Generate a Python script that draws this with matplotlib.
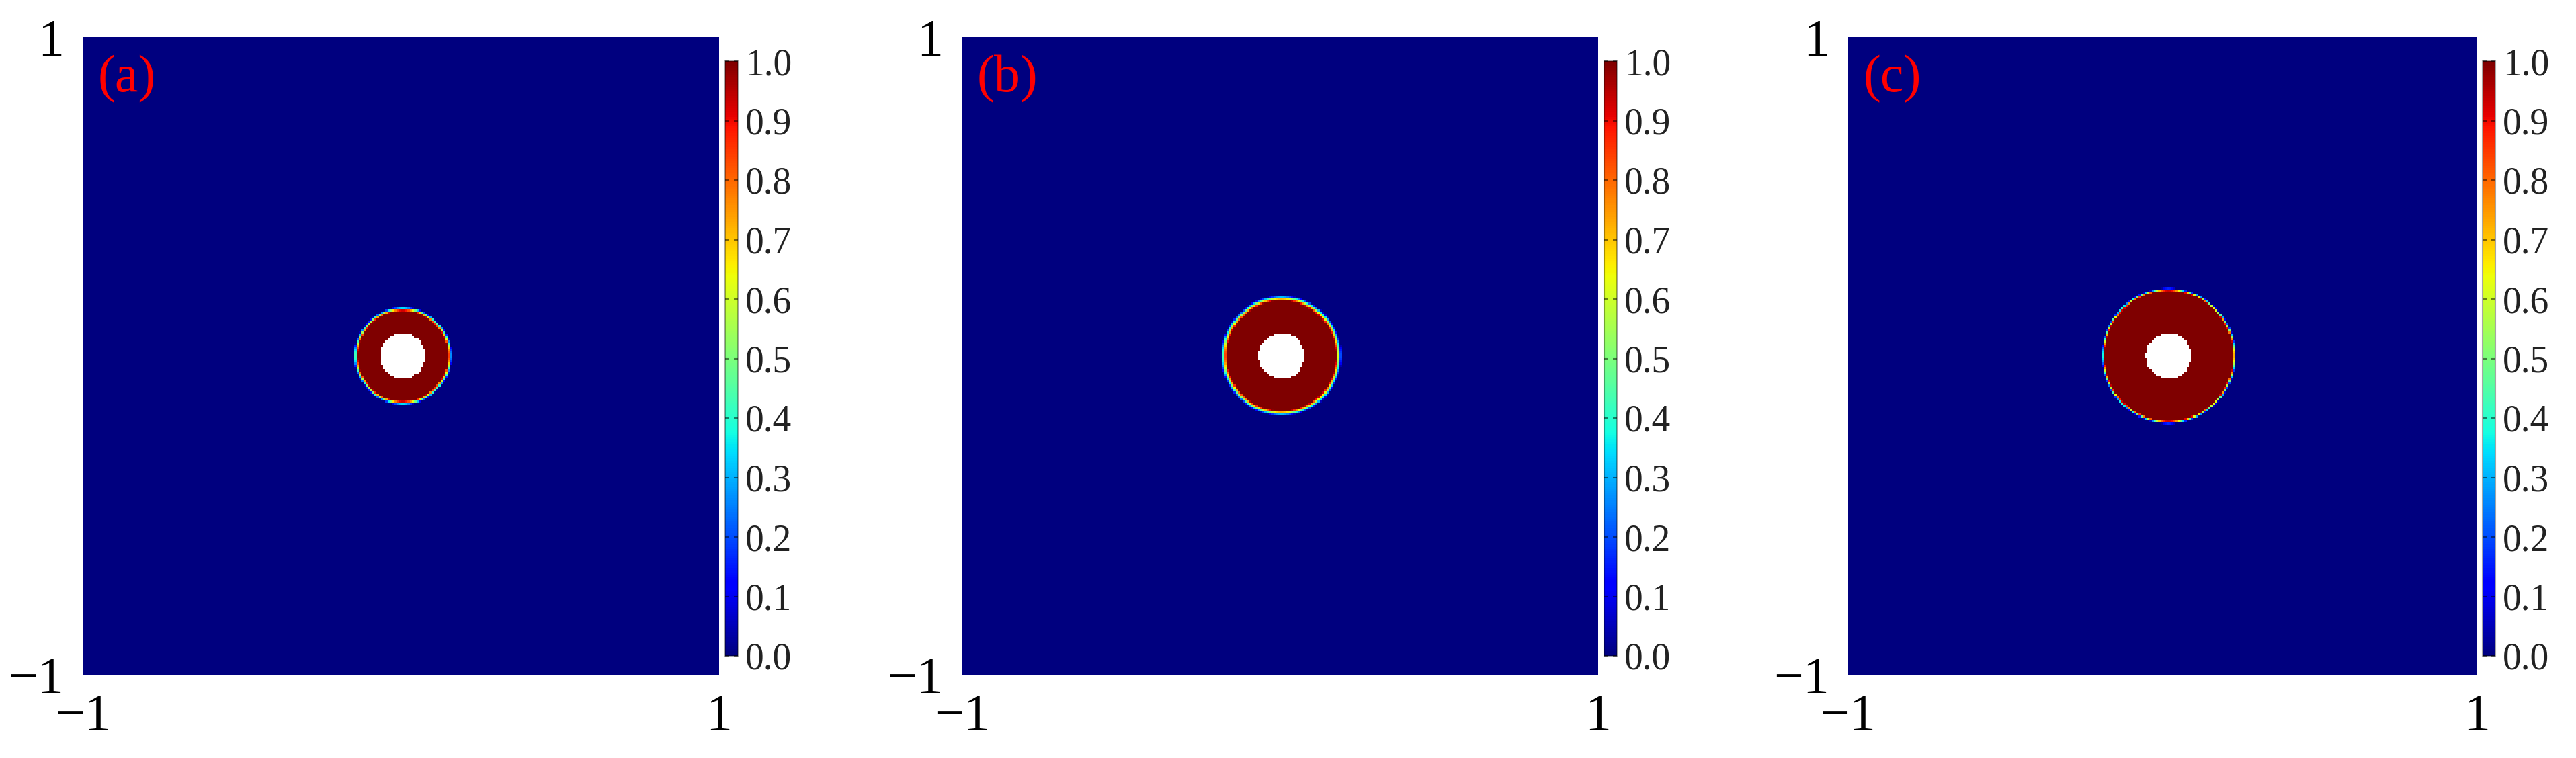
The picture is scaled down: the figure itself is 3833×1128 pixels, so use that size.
import numpy as np
import matplotlib
matplotlib.use("Agg")
import matplotlib.pyplot as plt

plt.rcParams['font.family'] = ['Liberation Serif', 'DejaVu Serif']

# panel data (radii in axis units)
labels = ['(a)', '(b)', '(c)']
hole_r = [0.071, 0.072, 0.072]
core_r = [0.142, 0.173, 0.205]
edge_r = [0.154, 0.190, 0.214]
centre_x = [0.006, 0.005, 0.019]
centre_y = [0.0, 0.0, 0.0]
cbar_ticks = [0.0, 0.1, 0.2, 0.3, 0.4, 0.5, 0.6, 0.7, 0.8, 0.9, 1.0]
n_cells = 288

W, H = 3833, 1128
fig = plt.figure(figsize=(W / 100, H / 100), dpi=100)

# pixel layout of each panel: left, width of the field, left of colorbar
ax_left = [123, 1431, 2750]
ax_width = [947, 947, 936]
cb_left = [1079, 2387, 3694]
ax_top, ax_bot = 55, 1004
cb_top, cb_bot = 91, 976

xs = np.linspace(-1, 1, n_cells)
X, Y = np.meshgrid(xs, xs)

for i in range(3):
    ax = fig.add_axes([ax_left[i] / W, (H - ax_bot) / H,
                       ax_width[i] / W, (ax_bot - ax_top) / H])
    r = np.hypot(X - centre_x[i], Y - centre_y[i])
    field = np.clip((edge_r[i] - r) / (edge_r[i] - core_r[i]), 0, 1)
    field = np.ma.masked_where(r < hole_r[i], field)
    im = ax.imshow(field, cmap='jet', vmin=0, vmax=1, origin='lower',
                   extent=[-1, 1, -1, 1], interpolation='nearest', aspect='auto')
    ax.set_facecolor('white')
    ax.set_xticks([-1, 1])
    ax.set_yticks([-1, 1])
    ax.set_xticklabels(['\u22121', '1'])
    ax.set_yticklabels(['\u22121', '1'])
    ax.tick_params(length=0, labelsize=56, pad=20)
    for s in ax.spines.values():
        s.set_visible(False)
    ax.text(0.024, 0.972, labels[i], transform=ax.transAxes, color='red',
            fontsize=56, ha='left', va='top')

    cax = fig.add_axes([cb_left[i] / W, (H - cb_bot) / H,
                        19 / W, (cb_bot - cb_top) / H])
    cb = fig.colorbar(im, cax=cax, ticks=cbar_ticks, format='%.1f')
    cb.outline.set_edgecolor((0, 0, 0, 0.35))
    cb.outline.set_linewidth(1.5)
    cax.tick_params(direction='in', length=4, width=1.5, left=True, right=True,
                    color=(0, 0, 0, 0.5), labelsize=40, pad=8, labelcolor='#222222')

fig.savefig('out.png', dpi=100)
